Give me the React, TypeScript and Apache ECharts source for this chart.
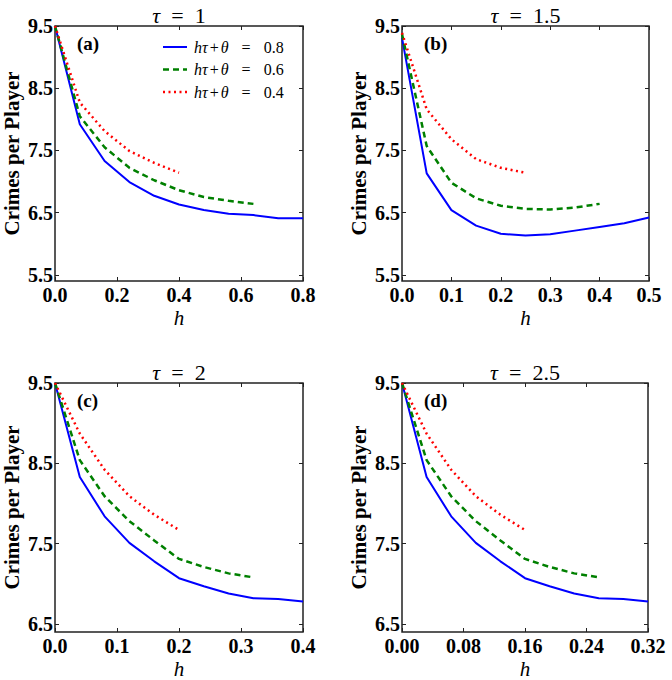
import { useEffect, useRef } from "react";
import * as echarts from "echarts";

// ---------- data ----------
// Panel (a) tau = 1
const hA_08 = [0, 0.08, 0.16, 0.24, 0.32, 0.4, 0.48, 0.56, 0.64, 0.72, 0.8];
const yA_08 = [9.5, 7.92, 7.33, 6.99, 6.77, 6.63, 6.54, 6.48, 6.46, 6.41, 6.41];
const hA_06 = [0, 0.08, 0.16, 0.24, 0.32, 0.4, 0.48, 0.56, 0.64];
const yA_06 = [9.5, 8.05, 7.55, 7.22, 7.02, 6.86, 6.75, 6.69, 6.64];
const hA_04 = [0, 0.08, 0.16, 0.24, 0.32, 0.4];
const yA_04 = [9.5, 8.27, 7.81, 7.49, 7.3, 7.14];

// Panel (b) tau = 1.5
const hB_08 = [0, 0.05, 0.1, 0.15, 0.2, 0.25, 0.3, 0.35, 0.4, 0.45, 0.5];
const yB_08 = [9.31, 7.13, 6.54, 6.29, 6.16, 6.13, 6.15, 6.21, 6.27, 6.33, 6.42];
const hB_06 = [0, 0.05, 0.1, 0.15, 0.2, 0.25, 0.3, 0.35, 0.4];
const yB_06 = [9.37, 7.57, 6.98, 6.73, 6.61, 6.56, 6.55, 6.58, 6.64];
const hB_04 = [0, 0.05, 0.1, 0.15, 0.2, 0.25];
const yB_04 = [9.39, 8.16, 7.68, 7.36, 7.22, 7.14];

// Panel (c) tau = 2
const hC_08 = [0, 0.04, 0.08, 0.12, 0.16, 0.2, 0.24, 0.28, 0.32, 0.36, 0.4];
const yC_08 = [9.5, 8.33, 7.84, 7.51, 7.28, 7.07, 6.97, 6.88, 6.82, 6.81, 6.78];
const hC_06 = [0, 0.04, 0.08, 0.12, 0.16, 0.2, 0.24, 0.28, 0.32];
const yC_06 = [9.5, 8.54, 8.09, 7.78, 7.54, 7.31, 7.21, 7.13, 7.08];
const hC_04 = [0, 0.04, 0.08, 0.12, 0.16, 0.2];
const yC_04 = [9.5, 8.87, 8.42, 8.09, 7.86, 7.67];

// Panel (d) tau = 2.5
const hD_08 = [0, 0.032, 0.064, 0.096, 0.128, 0.16, 0.192, 0.224, 0.256, 0.288, 0.32];
const yD_08 = [9.5, 8.33, 7.84, 7.51, 7.28, 7.07, 6.97, 6.88, 6.82, 6.81, 6.78];
const hD_06 = [0, 0.032, 0.064, 0.096, 0.128, 0.16, 0.192, 0.224, 0.256];
const yD_06 = [9.5, 8.54, 8.09, 7.78, 7.54, 7.31, 7.21, 7.13, 7.08];
const hD_04 = [0, 0.032, 0.064, 0.096, 0.128, 0.16];
const yD_04 = [9.5, 8.87, 8.42, 8.09, 7.86, 7.67];

// tick labels
const xTicksA = [0, 0.2, 0.4, 0.6, 0.8];
const xTicksB = [0, 0.1, 0.2, 0.3, 0.4, 0.5];
const xTicksC = [0, 0.1, 0.2, 0.3, 0.4];
const xTicksD = [0, 0.08, 0.16, 0.24, 0.32];
const yTicksTop = [5.5, 6.5, 7.5, 8.5, 9.5];
const yTicksBottom = [6.5, 7.5, 8.5, 9.5];

const seriesValues = ["0.8", "0.6", "0.4"];
const seriesNames = seriesValues.map((v) => "hτ+θ = " + v);
const panelTitles = ["1", "1.5", "2", "2.5"];
const panelLabels = ["(a)", "(b)", "(c)", "(d)"];

// ---------- layout / style ----------
const SERIF = "Liberation Serif";
const grids = [
  { left: 55, top: 26, width: 248, height: 255 },
  { left: 402, top: 26, width: 247, height: 255 },
  { left: 55, top: 383, width: 248, height: 255 },
  { left: 402, top: 383, width: 246, height: 255 },
];
const xRange = [
  [0, 0.8],
  [0, 0.5],
  [0, 0.4],
  [0, 0.32],
];
const xTicks = [xTicksA, xTicksB, xTicksC, xTicksD];
const xDecimals = [1, 1, 1, 2];
const yRange = [
  [5.4, 9.5],
  [5.4, 9.5],
  [6.4, 9.5],
  [6.4, 9.5],
];
const yTicks = [yTicksTop, yTicksTop, yTicksBottom, yTicksBottom];
const xNameGap = [26, 26, 26, 26];

const zip = (h: number[], y: number[]) => h.map((v, i) => [v, y[i]]);
const panelData = [
  [zip(hA_08, yA_08), zip(hA_06, yA_06), zip(hA_04, yA_04)],
  [zip(hB_08, yB_08), zip(hB_06, yB_06), zip(hB_04, yB_04)],
  [zip(hC_08, yC_08), zip(hC_06, yC_06), zip(hC_04, yC_04)],
  [zip(hD_08, yD_08), zip(hD_06, yD_06), zip(hD_04, yD_04)],
];
const lineColors = ["#0000ff", "#008000", "#ff0000"];
const lineWidths = [2, 2.5, 2.5];
const lineDashes: any[] = ["solid", [6, 4], [2, 3.5]];

const tickStyle = { color: "#222", width: 1 };

export default function App() {
  const ref = useRef<HTMLDivElement>(null);
  useEffect(() => {
    if (!ref.current) return;
    const chart = echarts.init(ref.current, null, { renderer: "svg" });

    const xAxes: any[] = [];
    const yAxes: any[] = [];
    for (let i = 0; i < 4; i++) {
      xAxes.push({
        type: "value",
        gridIndex: i,
        position: "bottom",
        min: xRange[i][0],
        max: xRange[i][1],
        axisLine: { show: false, onZero: false },
        splitLine: { show: false },
        axisTick: { show: true, inside: true, length: 4, customValues: xTicks[i], lineStyle: tickStyle },
        axisLabel: {
          customValues: xTicks[i],
          formatter: (v: number) => v.toFixed(xDecimals[i]),
          fontFamily: SERIF,
          fontWeight: "bold",
          fontSize: 20,
          color: "#000",
          margin: 4,
          showMinLabel: true,
          showMaxLabel: true,
          hideOverlap: false,
        },
        name: "h",
        nameLocation: "middle",
        nameGap: xNameGap[i],
        nameMoveOverlap: false,
        nameTextStyle: { fontFamily: SERIF, fontStyle: "italic", fontSize: 21, color: "#000" },
      });
      yAxes.push({
        type: "value",
        gridIndex: i,
        position: "left",
        min: yRange[i][0],
        max: yRange[i][1],
        axisLine: { show: false, onZero: false },
        splitLine: { show: false },
        axisTick: { show: true, inside: true, length: 4, customValues: yTicks[i], lineStyle: tickStyle },
        axisLabel: {
          customValues: yTicks[i],
          formatter: (v: number) => v.toFixed(1),
          fontFamily: SERIF,
          fontWeight: "bold",
          fontSize: 20,
          color: "#000",
          margin: 2,
          showMinLabel: true,
          showMaxLabel: true,
          hideOverlap: false,
        },
        name: "Crimes per Player",
        nameLocation: "middle",
        nameGap: 33,
        nameMoveOverlap: false,
        nameTextStyle: { fontFamily: SERIF, fontWeight: "bold", fontSize: 21, color: "#000" },
      });
    }
    for (let i = 0; i < 4; i++) {
      xAxes.push({
        type: "value",
        gridIndex: i,
        position: "top",
        min: xRange[i][0],
        max: xRange[i][1],
        axisLine: { show: false, onZero: false },
        splitLine: { show: false },
        axisTick: { show: true, inside: true, length: 4, customValues: xTicks[i], lineStyle: tickStyle },
        axisLabel: { show: false },
      });
      yAxes.push({
        type: "value",
        gridIndex: i,
        position: "right",
        min: yRange[i][0],
        max: yRange[i][1],
        axisLine: { show: false, onZero: false },
        splitLine: { show: false },
        axisTick: { show: true, inside: true, length: 4, customValues: yTicks[i], lineStyle: tickStyle },
        axisLabel: { show: false },
      });
    }

    const series: any[] = [];
    for (let i = 0; i < 4; i++) {
      for (let k = 0; k < 3; k++) {
        series.push({
          type: "line",
          name: seriesNames[k],
          xAxisIndex: i,
          yAxisIndex: i,
          data: panelData[i][k],
          symbol: "none",
          lineStyle: { color: lineColors[k], width: lineWidths[k], type: lineDashes[k] },
          itemStyle: { color: lineColors[k] },
          z: 2 + k,
        });
      }
    }

    const titles = grids.map((g, i) => ({
      text: "{t|τ}{e|=}{n|" + panelTitles[i] + "}",
      left: g.left + g.width / 2,
      top: g.top - 22,
      textAlign: "center",
      padding: 0,
      textStyle: {
        fontFamily: SERIF,
        fontWeight: "normal",
        fontSize: 22,
        color: "#000",
        rich: {
          t: { fontFamily: SERIF, fontStyle: "italic", fontSize: 22, color: "#000", padding: [0, 11, 0, 0] },
          e: { fontFamily: SERIF, fontSize: 22, color: "#000", padding: [0, 11, 0, 0] },
          n: { fontFamily: SERIF, fontSize: 22, color: "#000" },
        },
      },
    }));

    const graphics: any[] = grids.map((g, i) => ({
      type: "text",
      x: g.left + 22,
      y: g.top + 17,
      z: 10,
      style: {
        text: panelLabels[i],
        fontFamily: SERIF,
        fontWeight: "bold",
        fontSize: 19,
        fill: "#000",
        verticalAlign: "middle",
      },
    }));

    // legend drawn inside panel (a)
    const legX = 163;
    const legY = 47;
    const legStep = 22.5;
    seriesValues.forEach((v, k) => {
      const y = legY + k * legStep;
      graphics.push({
        type: "line",
        z: 10,
        shape: { x1: legX, y1: y, x2: legX + 24, y2: y },
        style: {
          stroke: lineColors[k],
          lineWidth: lineWidths[k],
          lineDash: k === 0 ? null : lineDashes[k],
        },
      });
      graphics.push({
        type: "text",
        z: 10,
        x: legX + 31,
        y: y,
        style: {
          text: "{i|hτ}{p|+}{i|θ}{q|=}{n|" + v + "}",
          fontFamily: SERIF,
          fontSize: 16,
          fill: "#000",
          verticalAlign: "middle",
          rich: {
            i: { fontFamily: SERIF, fontStyle: "italic", fontSize: 16, fill: "#000" },
            p: { fontFamily: SERIF, fontSize: 16, fill: "#000", padding: [0, 2, 0, 2] },
            q: { fontFamily: SERIF, fontSize: 16, fill: "#000", padding: [0, 13, 0, 13] },
            n: { fontFamily: SERIF, fontSize: 16, fill: "#000" },
          },
        },
      });
    });

    chart.setOption({
      animation: false,
      backgroundColor: "#fff",
      title: titles,
      grid: grids.map((g) => ({
        ...g,
        show: true,
        borderColor: "#222",
        borderWidth: 1.5,
        backgroundColor: "transparent",
      })),
      xAxis: xAxes,
      yAxis: yAxes,
      graphic: graphics,
      series,
    });
    return () => chart.dispose();
  }, []);
  return (
    <div
      ref={ref}
      style={{ position: "absolute", left: 0, top: 0, width: 672, height: 680 }}
    />
  );
}
